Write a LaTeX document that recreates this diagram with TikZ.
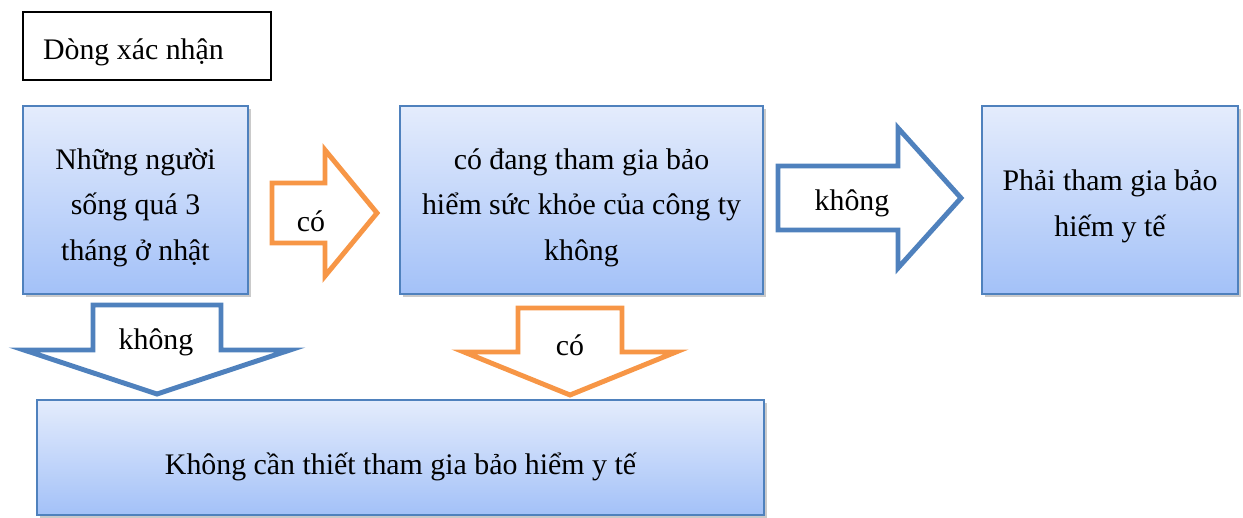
\documentclass[tikz,border=0pt]{standalone}
\usepackage{fontspec}
\setmainfont{Liberation Serif}
\usepackage{tikz}
\usetikzlibrary{shadows}
\definecolor{boxline}{RGB}{79,129,189}
\definecolor{boxtop}{RGB}{228,236,252}
\definecolor{boxbot}{RGB}{163,193,248}
\definecolor{arrorange}{RGB}{247,150,70}
\newcommand{\tstrut}{\rule{0pt}{21pt}}
\newcommand{\bstrut}{\rule[-4pt]{0pt}{0pt}}
\tikzstyle{box}    = [draw=boxline, line width=0.8pt, top color=boxtop, bottom color=boxbot,
                      drop shadow={shadow xshift=1.5pt, shadow yshift=-1.5pt, opacity=0.35, fill=black!60},
                      align=center, inner sep=0pt, font=\fontsize{17}{26}\selectfont]
\tikzstyle{legend} = [draw, line width=1.1pt, align=flush left, text width=4.16cm, inner xsep=0.4cm,
                      minimum height=1.36cm, font=\fontsize{17}{26}\selectfont]
\tikzstyle{oarr}   = [draw=arrorange, line width=2.8pt, fill=white]
\tikzstyle{barr}   = [draw=boxline, line width=2.8pt, fill=white]
\tikzstyle{lbl}    = [font=\fontsize{17}{26}\selectfont]

\begin{document}
\begin{tikzpicture}[x=0.02cm, y=-0.02cm]
\useasboundingbox (0,0) rectangle (1243,517);

% nodes
\node [legend]                                           at ( 147 ,  46 )    (legend) {\rule{0pt}{19pt}Dòng xác nhận\bstrut};
\node [box, minimum width=4.5cm,  minimum height=3.76cm] at ( 135.5 , 200 )  (live)   {\tstrut Những người\\sống quá 3\\tháng ở nhật\bstrut};
\node [box, minimum width=7.26cm, minimum height=3.76cm] at ( 581.5 , 200 )  (comp)   {\tstrut có đang tham gia bảo\\hiểm sức khỏe của công ty\\không\bstrut};
\node [box, minimum width=5.12cm, minimum height=3.76cm] at ( 1110 ,  200 )  (must)   {\rule{0pt}{19pt}Phải tham gia bảo\\hiếm y tế\bstrut};
\node [box, minimum width=14.54cm, minimum height=2.3cm] at ( 400.5 , 457.5 ) (noneed) {\rule{0pt}{23pt}Không cần thiết tham gia bảo hiểm y tế\bstrut};

% block arrows
\draw [oarr] (272,183) -- (325,183) -- (325,150) -- (377,213) -- (325,276) -- (325,243) -- (272,243) -- cycle;
\draw [barr] (778,166) -- (898,166) -- (898,128) -- (961,198) -- (898,268) -- (898,230) -- (778,230) -- cycle;
\draw [barr] (93,305) -- (221,305) -- (221,350) -- (290,350) -- (157,394) -- (24,350) -- (93,350) -- cycle;
\draw [oarr] (518,308) -- (622,308) -- (622,352) -- (676,352) -- (570,395) -- (464,352) -- (518,352) -- cycle;

% labels
\node [lbl] at ( 311 , 221 ) (yes1) {có};
\node [lbl] at ( 852 , 203 ) (no1)  {không};
\node [lbl] at ( 156 , 342 ) (no2)  {không};
\node [lbl] at ( 570 , 345 ) (yes2) {có};

\end{tikzpicture}
\end{document}
